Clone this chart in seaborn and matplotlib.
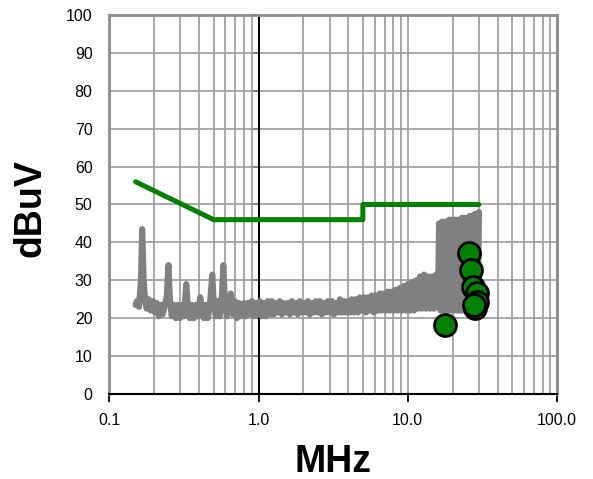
import matplotlib
matplotlib.use("Agg")
import matplotlib.pyplot as plt
import seaborn as sns
import pandas as pd
from matplotlib.ticker import FixedLocator, NullFormatter, FixedFormatter

# ---------------- data ----------------
spec_mhz = [0.150, 0.153, 0.158, 0.163, 0.166, 0.170, 0.174, 0.178, 0.184, 0.190,
            0.196, 0.202, 0.208, 0.215, 0.221, 0.228, 0.235, 0.243, 0.249, 0.254,
            0.262, 0.271, 0.279, 0.288, 0.297, 0.306, 0.316, 0.328, 0.336, 0.346,
            0.357, 0.368, 0.380, 0.392, 0.407, 0.417, 0.430, 0.443, 0.457, 0.472,
            0.490, 0.501, 0.517, 0.534, 0.550, 0.568, 0.581, 0.594, 0.613, 0.632,
            0.652, 0.673, 0.694, 0.716, 0.738, 0.761, 0.797,
            0.822, 0.848, 0.874, 0.902, 0.930, 0.959, 0.989, 1.020, 1.052, 1.086,
            1.120, 1.154, 1.191, 1.228, 1.266, 1.306, 1.347, 1.389, 1.433, 1.478,
            1.524, 1.571, 1.621, 1.672, 1.724, 1.778, 1.834, 1.891, 1.951, 2.012,
            2.075, 2.139, 2.207, 2.276, 2.347, 2.421, 2.497, 2.575, 2.656, 2.739,
            2.825, 2.913, 3.005, 3.098, 3.196, 3.296, 3.400, 3.506, 3.616, 3.729,
            3.846, 3.966, 4.091, 4.219, 4.351,
            4.487, 4.628, 4.773, 4.924, 5.078, 5.238, 5.402, 5.572, 5.747, 5.927,
            6.113, 6.305, 6.503, 6.708, 6.918, 7.136, 7.360, 7.591, 7.829, 8.075,
            8.329, 8.590, 8.860, 9.138, 9.425, 9.721, 10.03, 10.34, 10.66, 11.00,
            11.34, 11.70, 12.07, 12.45, 12.84, 13.24, 13.66, 14.09, 14.53, 14.99,
            15.46, 15.94,
            16.2, 16.6, 17.0, 17.5, 18.0, 18.5, 19.0, 19.5,
            20.0, 20.5, 21.0, 21.5, 22.0, 22.5, 23.0, 23.5, 24.0, 24.5,
            25.0, 25.5, 26.0, 26.5, 27.0, 27.5, 28.0, 28.5, 29.0, 29.5, 30.0]
spec_dbuv = [23.5, 24.5, 23.0, 30.0, 43.5, 30.0, 24.5, 22.5, 25.0, 22.0,
             24.5, 21.5, 24.0, 20.5, 23.5, 21.0, 23.0, 26.0, 34.0, 26.0,
             20.5, 23.5, 20.0, 23.5, 20.0, 23.5, 20.5, 29.0, 23.5, 20.0,
             23.5, 20.0, 23.5, 20.5, 25.5, 22.0, 20.0, 23.5, 20.0, 23.5,
             31.5, 24.0, 20.5, 24.5, 20.5, 26.0, 34.0, 25.0, 20.5, 24.0,
             26.5, 21.0, 24.5, 20.0, 24.0, 20.5, 24.0,
             20.5, 24.0, 21.0, 24.5, 20.5, 24.0, 21.0, 24.5, 20.5, 24.0,
             20.5, 24.5, 21.0, 24.5, 21.0, 24.0, 21.5, 24.5, 21.0, 24.0,
             21.5, 24.0, 21.0, 24.5, 21.5, 24.0, 21.0, 24.5, 21.5, 24.0,
             21.5, 24.5, 21.0, 24.0, 21.5, 24.5, 21.5, 24.5, 21.0, 24.0,
             21.5, 24.5, 21.5, 24.5, 21.0, 24.0, 21.5, 25.0, 21.5, 24.5,
             21.5, 24.5, 21.5, 25.0, 21.5,
             25.0, 21.5, 25.5, 22.0, 25.5, 21.5, 25.5, 22.0, 26.0, 21.5,
             26.0, 22.0, 26.5, 22.0, 26.5, 22.0, 27.0, 22.0, 27.0, 22.0,
             27.5, 22.0, 28.0, 22.0, 28.5, 22.0, 29.0, 22.0, 29.5, 22.0,
             30.0, 22.5, 31.0, 22.5, 31.5, 22.5, 31.0, 22.5, 31.0, 22.5,
             31.5, 23.0,
             45.0, 22.0, 45.5, 22.0, 45.5, 22.0, 46.0, 22.0,
             46.0, 22.0, 46.0, 22.0, 46.0, 22.0, 46.5, 22.0, 46.5, 22.0,
             46.5, 22.0, 47.0, 22.0, 47.0, 22.0, 47.5, 22.0, 47.5, 22.0, 48.0]

limit_mhz = [0.15, 0.5, 5.0, 5.0, 30.0]
limit_dbuv = [56.0, 46.0, 46.0, 50.0, 50.0]

meas_mhz = [25.8, 26.5, 27.2, 28.9, 28.9, 28.2, 27.9, 17.7]
meas_dbuv = [37.3, 32.7, 28.3, 26.6, 24.4, 22.6, 23.5, 18.2]

x_ticks = [0.1, 1.0, 10.0, 100.0]
x_ticklabels = ["0.1", "1.0", "10.0", "100.0"]
y_ticks = [0, 10, 20, 30, 40, 50, 60, 70, 80, 90, 100]

# ---------------- style ----------------
sns.set_style("white")
plt.rcParams["font.family"] = ["Liberation Sans", "DejaVu Sans"]
plt.rcParams["text.color"] = "black"
plt.rcParams["axes.labelcolor"] = "black"
plt.rcParams["xtick.color"] = "black"
plt.rcParams["ytick.color"] = "black"

fig = plt.figure(figsize=(5.93, 4.79), dpi=100)
ax = fig.add_axes([0.1843, 0.1775, 0.7550, 0.7912])

spec_df = pd.DataFrame({"MHz": spec_mhz, "dBuV": spec_dbuv})
limit_df = pd.DataFrame({"MHz": limit_mhz, "dBuV": limit_dbuv})
meas_df = pd.DataFrame({"MHz": meas_mhz, "dBuV": meas_dbuv})

ax.set_xscale("log")
ax.set_xlim(0.1, 100)
ax.set_ylim(0, 100)

# grid
minor_pos = [m * d for d in (0.1, 1.0, 10.0) for m in range(2, 10)]
ax.xaxis.set_minor_locator(FixedLocator(minor_pos))
ax.xaxis.set_minor_formatter(NullFormatter())
ax.set_xticks(x_ticks)
ax.xaxis.set_major_formatter(FixedFormatter(x_ticklabels))
ax.set_yticks(y_ticks)
ax.grid(True, which="both", axis="x", color="#9a9a9a", lw=1.2, zorder=0)
ax.grid(True, which="major", axis="y", color="#9a9a9a", lw=1.2, zorder=0)
ax.set_axisbelow(True)

# value axis crossing at 1 MHz
ax.axvline(1.0, color="black", lw=1.5, zorder=1.5)
sec = ax.secondary_yaxis(1 / 3)
sec.set_yticks(y_ticks)
sec.yaxis.set_major_formatter(NullFormatter())
sec.tick_params(axis="y", direction="out", length=5, width=1.3, color="black", left=True, right=False)
sec.spines["left"].set_visible(False)
sec.spines["right"].set_visible(False)

sns.lineplot(data=spec_df, x="MHz", y="dBuV", sort=False, estimator=None,
             color="#808080", lw=4.4, ax=ax, zorder=2)
sns.lineplot(data=limit_df, x="MHz", y="dBuV", sort=False, estimator=None,
             color="#008000", lw=3.6, ax=ax, zorder=3)
sns.scatterplot(data=meas_df, x="MHz", y="dBuV", color="#008000", s=250,
                edgecolor="black", linewidth=2.0, ax=ax, zorder=4)

# spines
for side in ("left", "top", "right"):
    ax.spines[side].set_color("#8c8c8c")
    ax.spines[side].set_linewidth(2.0)
ax.spines["bottom"].set_color("black")
ax.spines["bottom"].set_linewidth(1.5)

ax.tick_params(axis="x", which="major", direction="out", length=6, width=1.3,
               color="black", labelcolor="black", labelsize=11.5, pad=8, bottom=True)
ax.tick_params(axis="x", which="minor", length=0)
ax.tick_params(axis="y", which="both", length=0, labelsize=11.5, labelcolor="black",
               pad=12, left=True)

ax.set_xlabel("MHz", fontsize=27, fontweight="bold", va="center", color="black")
ax.set_ylabel("dBuV", fontsize=27, fontweight="bold", va="center", color="black")
ax.xaxis.set_label_coords(0.5, -0.179)
ax.yaxis.set_label_coords(-0.177, 0.49)

fig.savefig("out.png", dpi=100)
